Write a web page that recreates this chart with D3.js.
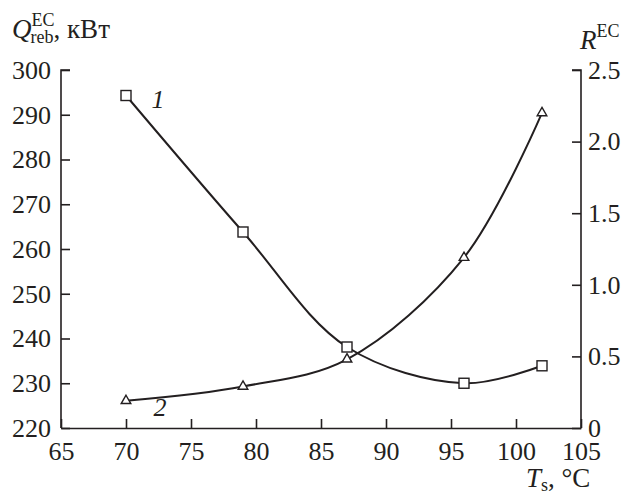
<!DOCTYPE html>
<html>
<head>
<meta charset="utf-8">
<script src="https://cdn.jsdelivr.net/npm/d3@7"></script>
<style>
  body { margin: 0; background: #fff; }
  svg text { font-family: "Liberation Serif", "Times New Roman", Tinos, Times, serif; fill: #231f20; }
</style>
</head>
<body>
<div id="chart"></div>
<script>
let temps = [70, 79, 87, 96, 102];
let qReb = [294.3, 263.8, 238.1, 230.0, 233.9];
let rEC = [0.19, 0.29, 0.48, 1.19, 2.20];
let xTicks = [65, 70, 75, 80, 85, 90, 95, 100, 105];
let yLeftTicks = [220, 230, 240, 250, 260, 270, 280, 290, 300];
let yRightTicks = [0, 0.5, 1.0, 1.5, 2.0, 2.5];

let dims = { width: 627, height: 493, left: 61, right: 581, top: 70, bottom: 428 };
let ink = "#231f20";
let serif = '"Liberation Serif", "Times New Roman", Tinos, Times, serif';
let fs = 26;

const svg = d3.select("#chart").append("svg")
  .attr("width", dims.width).attr("height", dims.height)
  .attr("font-family", serif);

const x = d3.scaleLinear().domain([65, 105]).range([dims.left, dims.right]);
const yL = d3.scaleLinear().domain([220, 300]).range([dims.bottom, dims.top]);
const yR = d3.scaleLinear().domain([0, 2.5]).range([dims.bottom, dims.top]);

function styleAxis(g) {
  g.attr("font-family", serif).attr("font-size", fs);
  g.selectAll("path").attr("stroke", ink).attr("stroke-width", 1.6);
  g.selectAll("line").attr("stroke", ink).attr("stroke-width", 1.6);
  g.selectAll("text").attr("fill", ink);
}

// bottom axis, ticks pointing in
svg.append("g").attr("transform", `translate(0,${dims.bottom})`)
  .call(d3.axisBottom(x).tickValues(xTicks).tickSizeInner(-9).tickSizeOuter(0).tickPadding(14))
  .call(styleAxis)
  .call(g => g.selectAll("text").attr("dy", "0.71em"));

svg.append("g").attr("transform", `translate(${dims.left},0)`)
  .call(d3.axisLeft(yL).tickValues(yLeftTicks).tickSizeInner(-9).tickSizeOuter(0).tickPadding(10))
  .call(styleAxis)
  .call(g => g.selectAll("path").attr("d", `M9,${dims.top}H0V${dims.bottom}`));

svg.append("g").attr("transform", `translate(${dims.right},0)`)
  .call(d3.axisRight(yR).tickValues(yRightTicks)
    .tickFormat(d => d === 0 ? "0" : d3.format(".1f")(d))
    .tickSizeInner(-9).tickSizeOuter(0).tickPadding(7))
  .call(styleAxis)
  .call(g => g.selectAll("path").attr("d", `M-9,${dims.top}H0V${dims.bottom}`));

const lineQ = d3.line().x((d, i) => x(temps[i])).y(d => yL(d)).curve(d3.curveCatmullRom.alpha(0.5));
const lineR = d3.line().x((d, i) => x(temps[i])).y(d => yR(d)).curve(d3.curveCatmullRom.alpha(0.5));

svg.append("path").datum(qReb).attr("d", lineQ)
  .attr("fill", "none").attr("stroke", ink).attr("stroke-width", 2);
svg.append("path").datum(rEC).attr("d", lineR)
  .attr("fill", "none").attr("stroke", ink).attr("stroke-width", 2);

svg.selectAll(".sq").data(qReb).join("rect").attr("class", "sq")
  .attr("x", (d, i) => x(temps[i]) - 5).attr("y", d => yL(d) - 5)
  .attr("width", 10).attr("height", 10)
  .attr("fill", "#fff").attr("stroke", ink).attr("stroke-width", 1.4);

const tri = d3.symbol().type(d3.symbolTriangle).size(40);
svg.selectAll(".tri").data(rEC).join("path").attr("class", "tri")
  .attr("d", tri)
  .attr("transform", (d, i) => `translate(${x(temps[i])},${yR(d)})`)
  .attr("fill", "#fff").attr("stroke", ink).attr("stroke-width", 1.4);

// curve numbers
svg.append("text").attr("x", 158).attr("y", 108).attr("text-anchor", "middle")
  .attr("font-size", fs).style("font-style", "italic").text("1");
svg.append("text").attr("x", 160).attr("y", 416).attr("text-anchor", "middle")
  .attr("font-size", fs).style("font-style", "italic").text("2");

// axis titles
const qt = svg.append("text").attr("x", 12).attr("y", 38).attr("font-size", fs + 1);
qt.append("tspan").style("font-style", "italic").text("Q");
qt.append("tspan").attr("dy", -12).attr("font-size", 18).text("EC");
qt.append("tspan").attr("dx", -24).attr("dy", 17).attr("font-size", 18).text("reb");
qt.append("tspan").attr("dy", -5).text(", кВт");

const rt = svg.append("text").attr("x", 580).attr("y", 49).attr("font-size", fs + 1);
rt.append("tspan").style("font-style", "italic").text("R");
rt.append("tspan").attr("dy", -12).attr("font-size", 18).text("EC");

const tt = svg.append("text").attr("x", 526).attr("y", 487).attr("font-size", fs + 1);
tt.append("tspan").style("font-style", "italic").text("T");
tt.append("tspan").attr("dy", 4).attr("font-size", 18).text("s");
tt.append("tspan").attr("dy", -4).text(", °C");
</script>
</body>
</html>
